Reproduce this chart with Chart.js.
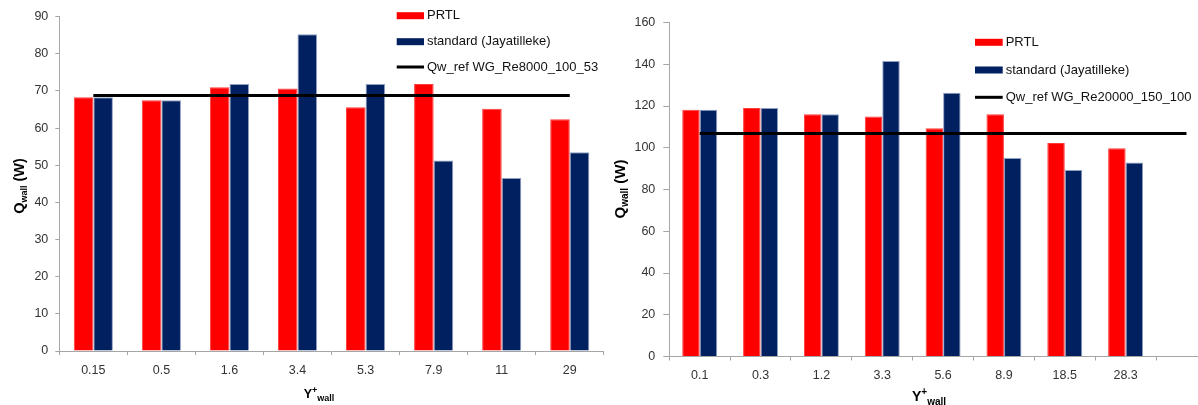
<!DOCTYPE html>
<html>
<head>
<meta charset="utf-8">
<script src="https://cdn.jsdelivr.net/npm/chart.js@4.4.0/dist/chart.umd.min.js"></script>
<style>
  html, body { margin: 0; padding: 0; background: #fff; overflow: hidden; width: 1198px; height: 405px; }
  .box { position: absolute; top: 0; height: 405px; }
  #boxA { left: 0; width: 615px; }
  #boxB { left: 610px; width: 620px; }
</style>
</head>
<body>
<div class="box" id="boxA"><canvas id="cA"></canvas></div>
<div class="box" id="boxB"><canvas id="cB"></canvas></div>
<script>
// ---- data: wall heat flux vs. first-cell Y+ ----
const seriesNames = ['PRTL', 'standard (Jayatilleke)'];

// Re = 8000 case
const yplusA = ['0.15', '0.5', '1.6', '3.4', '5.3', '7.9', '11', '29'];
const prtlA  = [68.3, 67.5, 71.0, 70.7, 65.6, 71.9, 65.2, 62.4];
const stdA   = [68.3, 67.5, 71.9, 85.3, 71.9, 51.3, 46.6, 53.5];
const refA   = [68.8, 68.8, 68.8, 68.8, 68.8, 68.8, 68.8, 68.8];
const refNameA = 'Qw_ref WG_Re8000_100_53';
const yRangeA = [0, 90, 10];

// Re = 20000 case (last slot is empty)
const yplusB = ['0.1', '0.3', '1.2', '3.3', '5.6', '8.9', '18.5', '28.3', ''];
const prtlB  = [118.2, 119.1, 116.0, 115.0, 109.4, 116.0, 102.3, 99.8, null];
const stdB   = [118.2, 119.1, 116.0, 141.6, 126.3, 95.1, 89.3, 92.9, null];
const refB   = [106.8, 106.8, 106.8, 106.8, 106.8, 106.8, 106.8, 106.8, 106.8];
const refNameB = 'Qw_ref WG_Re20000_150_100';
const yRangeB = [0, 160, 20];

const FONT = "'Liberation Sans', Arial, sans-serif";
const RED = '#ff0000';
const NAVY = '#002060';
const AXIS = '#a6a6a6';

// draws a run of text pieces (normal / sub / superscript), centred on (cx, cy) baseline
function drawRich(ctx, parts, cx, cy, angle) {
  ctx.save();
  ctx.translate(cx, cy);
  ctx.rotate(angle);
  let total = 0;
  parts.forEach(p => { ctx.font = p.font; total += ctx.measureText(p.t).width; });
  let x = -total / 2;
  ctx.textBaseline = 'alphabetic';
  ctx.textAlign = 'left';
  ctx.fillStyle = '#000';
  parts.forEach(p => {
    ctx.font = p.font;
    ctx.fillText(p.t, x, p.dy || 0);
    x += ctx.measureText(p.t).width;
  });
  ctx.restore();
}

// legend boxes and axis titles drawn over the chart
function makeOverlay(cfg) {
  return {
    id: 'overlay',
    afterDraw(chart) {
      const ctx = chart.ctx;
      ctx.save();
      chart.data.datasets.forEach((ds, i) => {
        const y = cfg.legendY[i];
        const x0 = cfg.legendX;
        if (ds.type === 'line') {
          ctx.strokeStyle = ds.borderColor;
          ctx.lineWidth = 3;
          ctx.beginPath();
          ctx.moveTo(x0, y);
          ctx.lineTo(x0 + cfg.swatchW, y);
          ctx.stroke();
        } else {
          ctx.fillStyle = ds.backgroundColor;
          ctx.fillRect(x0, y - 3.5, cfg.swatchW, 7);
        }
        ctx.fillStyle = '#111';
        ctx.font = cfg.legendFont;
        ctx.textBaseline = 'middle';
        ctx.textAlign = 'left';
        ctx.fillText(ds.label, x0 + cfg.swatchW + 3, y);
      });
      ctx.restore();
      drawRich(ctx, cfg.xTitle.parts, cfg.xTitle.x, cfg.xTitle.y, 0);
      drawRich(ctx, cfg.yTitle.parts, cfg.yTitle.x, cfg.yTitle.y, -Math.PI / 2);
    }
  };
}

function makeChart(id, labels, prtl, std, ref, refName, yRange, geo, overlay) {
  return new Chart(document.getElementById(id), {
    type: 'bar',
    data: {
      labels: labels,
      datasets: [
        { type: 'bar', label: seriesNames[0], data: prtl, backgroundColor: RED,
          borderColor: '#ff3c3c', borderWidth: 1, order: 1,
          categoryPercentage: 0.575, barPercentage: 1.0 },
        { type: 'bar', label: seriesNames[1], data: std, backgroundColor: NAVY,
          borderColor: '#8f9fc4', borderWidth: 1, order: 1,
          categoryPercentage: 0.575, barPercentage: 1.0 },
        { type: 'line', label: refName, data: ref, borderColor: '#000', borderWidth: 3,
          pointRadius: 0, fill: false, order: 0 }
      ]
    },
    options: {
      responsive: true,
      maintainAspectRatio: false,
      animation: false,
      devicePixelRatio: 1,
      layout: { padding: { left: 0, right: geo.padRight, top: geo.padTop, bottom: 0 } },
      plugins: { legend: { display: false }, tooltip: { enabled: false } },
      scales: {
        x: {
          offset: true,
          grid: { display: true, offset: true, drawOnChartArea: false, drawTicks: true,
                  tickLength: 4, color: AXIS },
          border: { display: true, color: AXIS, width: 1 },
          ticks: { color: '#333', font: { family: FONT, size: geo.tickSize }, padding: 8,
                   maxRotation: 0, autoSkip: false },
          afterFit: s => { s.height = geo.xHeight; }
        },
        y: {
          min: yRange[0], max: yRange[1],
          grid: { display: true, drawOnChartArea: false, drawTicks: true,
                  tickLength: geo.yTick, color: AXIS },
          border: { display: true, color: AXIS, width: 1 },
          ticks: { stepSize: yRange[2], color: '#333', font: { family: FONT, size: geo.tickSize },
                   padding: geo.yPad },
          afterFit: s => { s.width = geo.yWidth; }
        }
      }
    },
    plugins: [makeOverlay(overlay)]
  });
}

makeChart('cA', yplusA, prtlA, stdA, refA, refNameA, yRangeA,
  { padRight: 11.2, padTop: 16.7, xHeight: 54, yWidth: 59.3, yTick: 4, yPad: 7, tickSize: 12.5 },
  {
    legendX: 396.7, swatchW: 27.3, legendY: [15.7, 41.7, 67],
    legendFont: '13px ' + FONT,
    xTitle: { x: 319, y: 398, parts: [
      { t: 'Y', font: 'bold 12.5px ' + FONT },
      { t: '+', font: 'bold 9px ' + FONT, dy: -5 },
      { t: 'wall', font: 'bold 9px ' + FONT, dy: 3 } ] },
    yTitle: { x: 24, y: 186, parts: [
      { t: 'Q', font: 'bold 14.5px ' + FONT },
      { t: 'wall', font: 'bold 9px ' + FONT, dy: 3 },
      { t: ' (W)', font: 'bold 14.5px ' + FONT } ] }
  });

makeChart('cB', yplusB, prtlB, stdB, refB, refNameB, yRangeB,
  { padRight: 13.1, padTop: 22.5, xHeight: 48.5, yWidth: 59.3, yTick: 6, yPad: 8, tickSize: 12.5 },
  {
    legendX: 365, swatchW: 27.7, legendY: [42.3, 70, 97.3],
    legendFont: '13px ' + FONT,
    xTitle: { x: 319, y: 401, parts: [
      { t: 'Y', font: 'bold 14px ' + FONT },
      { t: '+', font: 'bold 10px ' + FONT, dy: -6 },
      { t: 'wall', font: 'bold 10px ' + FONT, dy: 4 } ] },
    yTitle: { x: 15, y: 189, parts: [
      { t: 'Q', font: 'bold 15px ' + FONT },
      { t: 'wall', font: 'bold 10px ' + FONT, dy: 3 },
      { t: ' (W)', font: 'bold 15px ' + FONT } ] }
  });
</script>
</body>
</html>
